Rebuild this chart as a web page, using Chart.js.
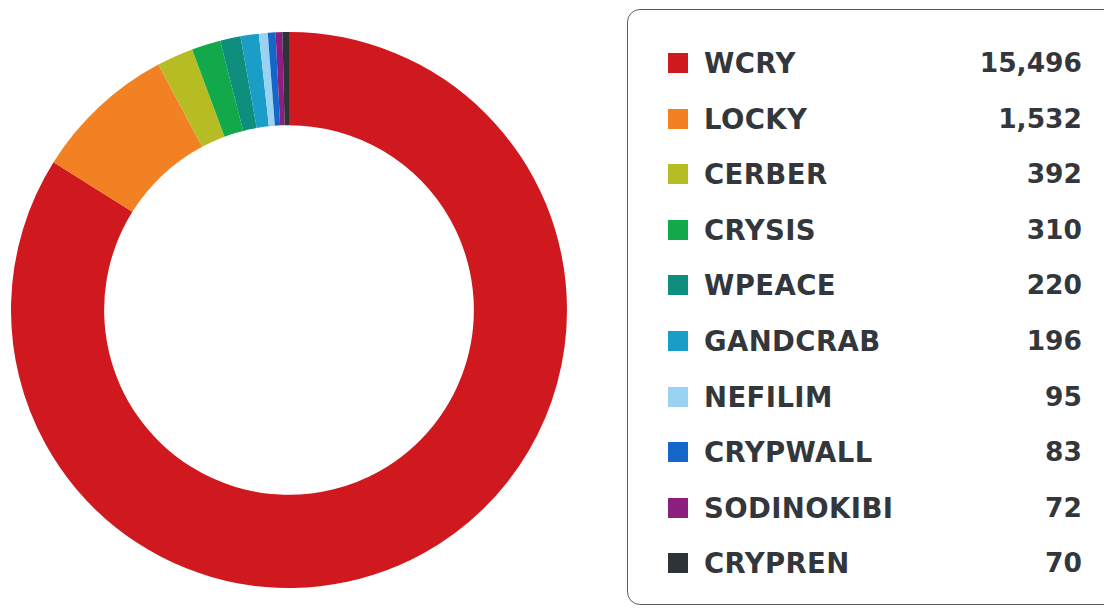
<!DOCTYPE html>
<html>
<head>
<meta charset="utf-8">
<script src="https://cdn.jsdelivr.net/npm/chart.js@4/dist/chart.umd.min.js"></script>
<style>
  html, body { margin: 0; padding: 0; background: #fff; }
  body { width: 1104px; height: 610px; position: relative; overflow: hidden; font-family: "DejaVu Sans", sans-serif; }
  #donut { position: absolute; left: 11px; top: 32px; width: 556px; height: 556px; }
  #legendBox {
    position: absolute; left: 627px; top: 9px; width: 520px; height: 596px;
    border: 1.5px solid #5c5c5c; border-radius: 13px; box-sizing: border-box;
  }
  .row { position: absolute; left: 40px; width: 414px; height: 40px; }
  .sw { position: absolute; left: 0; top: 10px; width: 20px; height: 20px; }
  .name { position: absolute; left: 36px; top: 0; line-height: 40px; font-size: 27.5px; font-weight: 700; color: #33373c; letter-spacing: 0.4px; }
  .val { position: absolute; right: 0; top: 0; line-height: 40px; font-size: 26.5px; font-weight: 700; color: #33373c; }
</style>
</head>
<body>
<div id="donut"><canvas id="chart"></canvas></div>
<div id="legendBox"></div>
<script>
// ransomware families and detection counts
const families = ["WCRY", "LOCKY", "CERBER", "CRYSIS", "WPEACE", "GANDCRAB", "NEFILIM", "CRYPWALL", "SODINOKIBI", "CRYPREN"];
const counts = [15496, 1532, 392, 310, 220, 196, 95, 83, 72, 70];
const colors = ["#d0181f", "#f18122", "#b6bd24", "#12a94b", "#0e8e7c", "#1a9ec8", "#9ad3f1", "#1466c9", "#8b1e7f", "#2e3338"];

// build legend
const box = document.getElementById("legendBox");
families.forEach((name, i) => {
  const row = document.createElement("div");
  row.className = "row";
  row.style.top = (33 + i * 55.6) + "px";
  row.innerHTML = `<div class="sw" style="background:${colors[i]}"></div>` +
    `<div class="name">${name}</div><div class="val">${counts[i].toLocaleString("en-US")}</div>`;
  box.appendChild(row);
});

const ctx = document.getElementById("chart").getContext("2d");
new Chart(ctx, {
  type: 'doughnut',
  data: {
    labels: families,
    datasets: [{
      data: counts,
      backgroundColor: colors,
      borderWidth: 0
    }]
  },
  options: {
    responsive: true,
    maintainAspectRatio: false,
    animation: false,
    cutout: '66.5%',
    layout: { padding: 0 },
    plugins: { legend: { display: false }, tooltip: { enabled: false } }
  }
});
</script>
</body>
</html>
